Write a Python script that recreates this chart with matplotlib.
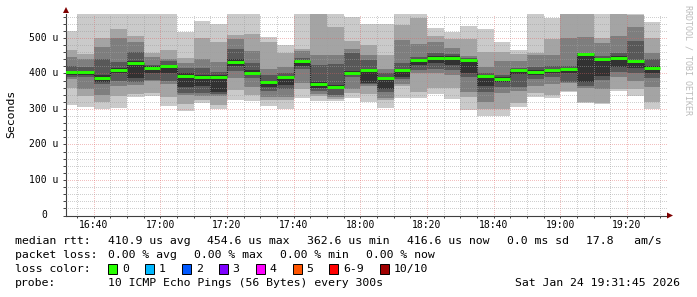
import numpy as np
import matplotlib
matplotlib.use("Agg")
import matplotlib.pyplot as plt
from matplotlib.patches import Polygon, Rectangle
from matplotlib.ticker import MultipleLocator, FixedLocator, FuncFormatter

plt.rcParams['font.family'] = ['DejaVu Sans Mono']

# 5 minute slots, end of slot in minutes after 16:30 (16:35 .. 19:30)
slot_end = np.arange(5, 181, 5)

# sorted ping times per slot, microseconds (p1 lowest .. p10 highest)
p10 = [520, 580, 580, 580, 580, 580, 580, 518, 548, 539, 580, 580, 502, 480, 580, 600, 580, 560, 540, 540,
       580, 580, 527, 518, 534, 525, 488, 466, 580, 555, 600, 600, 580, 600, 600, 546]
p9 = [466, 456, 501, 525, 506, 459, 466, 443, 501, 488, 508, 510, 490, 457, 470, 580, 531, 492, 480, 451,
      538, 556, 506, 496, 496, 461, 461, 455, 459, 496, 580, 580, 500, 580, 565, 499]
p8 = [446, 440, 475, 499, 489, 446, 442, 429, 440, 433, 497, 463, 412, 419, 463, 452, 453, 470, 453, 414,
      493, 484, 490, 471, 449, 419, 436, 436, 452, 452, 500, 503, 487, 505, 530, 459]
p7 = [420, 417, 440, 433, 460, 424, 435, 415, 415, 405, 469, 430, 395, 400, 445, 424, 428, 459, 437, 400,
      430, 447, 457, 455, 445, 400, 395, 415, 418, 420, 420, 458, 450, 459, 492, 440]
p6 = [407, 408, 395, 415, 435, 420, 425, 400, 395, 395, 440, 410, 380, 393, 438, 375, 368, 406, 414, 390,
      413, 441, 449, 449, 442, 397, 389, 413, 409, 414, 416, 458, 444, 448, 438, 420]
median = [403, 404, 386, 409, 430, 415, 421, 393, 390, 390, 433, 402, 376, 389, 434, 371, 363, 402, 409, 386,
          409, 437, 445, 445, 438, 393, 385, 409, 405, 410, 412, 454, 440, 444, 434, 416]
p5 = [395, 395, 377, 400, 388, 400, 400, 361, 365, 349, 420, 395, 363, 368, 420, 358, 355, 395, 374, 357,
      390, 425, 430, 424, 402, 365, 375, 399, 396, 400, 400, 376, 393, 417, 416, 402]
p4 = [391, 390, 370, 380, 377, 382, 379, 345, 345, 342, 408, 388, 352, 355, 414, 352, 340, 390, 370, 347,
      385, 410, 412, 410, 390, 349, 363, 363, 385, 390, 377, 365, 381, 405, 400, 386]
p3 = [384, 356, 339, 365, 368, 378, 370, 339, 338, 337, 388, 361, 335, 335, 372, 343, 334, 357, 365, 331,
      371, 401, 400, 396, 349, 321, 346, 350, 365, 370, 372, 360, 355, 390, 380, 361]
p2 = [360, 336, 320, 337, 342, 344, 333, 313, 325, 311, 353, 339, 325, 325, 356, 338, 327, 346, 343, 325,
      365, 348, 358, 358, 335, 300, 301, 318, 344, 339, 352, 320, 316, 355, 355, 321]
p1 = [311, 307, 300, 304, 334, 337, 308, 295, 318, 299, 325, 322, 309, 299, 330, 322, 322, 330, 319, 303,
      331, 331, 342, 327, 298, 279, 280, 307, 333, 330, 348, 317, 313, 350, 337, 300]

loss_labels = ['0', '1', '2', '3', '4', '5', '6-9', '10/10']
loss_colors = ['#26ff00', '#00b8ff', '#0059ff', '#7e00ff', '#ff00ff', '#ff5500', '#ff0000', '#a00000']

W, H = 697, 297


def fx(x):
    return x / W


def fy(y):
    return 1 - y / H


fig = plt.figure(figsize=(W / 100, H / 100), dpi=100)
ax = fig.add_axes([fx(66), fy(215.5), (668 - 66) / W, (215.5 - 14) / H])

# smoke: outer pair lightest, inner pair darkest
left = slot_end - 5
pairs = [(p1, p10, '#cacaca'), (p2, p9, '#a4a4a4'), (p3, p8, '#7e7e7e'),
         (p4, p7, '#585858'), (p5, p6, '#323232')]
for lo, hi, c in pairs:
    lo = np.array(lo)
    hi = np.array(hi)
    ax.bar(left, hi - lo, bottom=lo, width=5, align='edge', color=c,
           linewidth=0, antialiased=False, zorder=1)

# median
med = np.array(median)
ax.vlines(slot_end[:-1], med[:-1], med[1:], colors='#202020', lw=0.8,
          linestyles=(0, (1, 1)), zorder=4)
ax.hlines(med, left, slot_end, colors=loss_colors[0], lw=2.1, zorder=5)

ax.set_xlim(1.75, 182.35)
ax.set_ylim(0, 567.6)

ax.xaxis.set_major_locator(FixedLocator(np.arange(10, 181, 20)))
ax.xaxis.set_minor_locator(MultipleLocator(5))
ax.xaxis.set_major_formatter(FuncFormatter(
    lambda m, pos: '%d:%02d' % (16 + (30 + int(round(m))) // 60, (30 + int(round(m))) % 60)))
ax.yaxis.set_major_locator(MultipleLocator(100))
ax.yaxis.set_minor_locator(MultipleLocator(20))
ax.set_yticklabels([])

ax.set_axisbelow(False)
ax.grid(which='minor', color='#a0a0a0', alpha=0.5, lw=0.72, linestyle=(0, (1, 2)), antialiased=False)
ax.grid(which='major', color='#e06060', alpha=0.4, lw=0.72, linestyle=(0, (1, 2)), antialiased=False)

ax.tick_params(axis='both', which='both', direction='out', color='#404040', width=0.7)
ax.tick_params(axis='y', which='both', length=2)
ax.tick_params(axis='x', which='both', length=1.5, pad=1.5, labelsize=7)

for s in ['top', 'right']:
    ax.spines[s].set_visible(False)
for s in ['left', 'bottom']:
    ax.spines[s].set_color('#404040')
    ax.spines[s].set_linewidth(0.8)

# y tick labels
for v in range(0, 600, 100):
    if v == 0:
        ax.text(-19 / 602, 0, '0', transform=ax.get_yaxis_transform(), ha='right', va='center', fontsize=7)
    else:
        ax.text(-8 / 602, v, '%d u' % v, transform=ax.get_yaxis_transform(), ha='right', va='center', fontsize=7)

# axis arrows
fig.add_artist(Polygon([[fx(66), fy(7)], [fx(63), fy(13)], [fx(69), fy(13)]], closed=True,
                       transform=fig.transFigure, color='#7f0000', lw=0))
fig.add_artist(Polygon([[fx(673), fy(215.5)], [fx(667), fy(212.5)], [fx(667), fy(218.5)]], closed=True,
                       transform=fig.transFigure, color='#7f0000', lw=0))

fig.text(fx(11), fy(114), 'Seconds', rotation=90, ha='center', va='center', fontsize=8.25)
fig.text(fx(688), fy(60), 'RRDTOOL / TOBI OETIKER', rotation=270, ha='center', va='center',
         fontsize=6, color='#bbbbbb')

fs = 8.25
line1 = [(15, 'median rtt:'), (107.6, '410.9 us avg'), (207.4, '454.6 us max'), (307.2, '362.6 us min'),
         (407, '416.6 us now'), (506.8, '0.0 ms sd'), (585.9, '17.8   am/s')]
for x, t in line1:
    fig.text(fx(x), fy(241), t, ha='left', va='center', fontsize=fs)

line2 = [(15, 'packet loss:'), (108, '0.00 % avg'), (194, '0.00 % max'), (280, '0.00 % min'),
         (366, '0.00 % now')]
for x, t in line2:
    fig.text(fx(x), fy(255), t, ha='left', va='center', fontsize=fs)

fig.text(fx(15), fy(269), 'loss color:', ha='left', va='center', fontsize=fs)
x = 108
for lab, c in zip(loss_labels, loss_colors):
    fig.add_artist(Rectangle((fx(x), fy(274)), 9 / W, 10 / H, transform=fig.transFigure,
                             facecolor=c, edgecolor='black', lw=0.7))
    fig.text(fx(x + 14), fy(269), lab, ha='left', va='center', fontsize=fs)
    x += 30 + 6.9 * len(lab)

fig.text(fx(15), fy(283), 'probe:', ha='left', va='center', fontsize=fs)
fig.text(fx(108), fy(283), '10 ICMP Echo Pings (56 Bytes) every 300s', ha='left', va='center', fontsize=fs)
fig.text(fx(680), fy(283), 'Sat Jan 24 19:31:45 2026', ha='right', va='center', fontsize=fs)

fig.savefig('out.png', dpi=100)
